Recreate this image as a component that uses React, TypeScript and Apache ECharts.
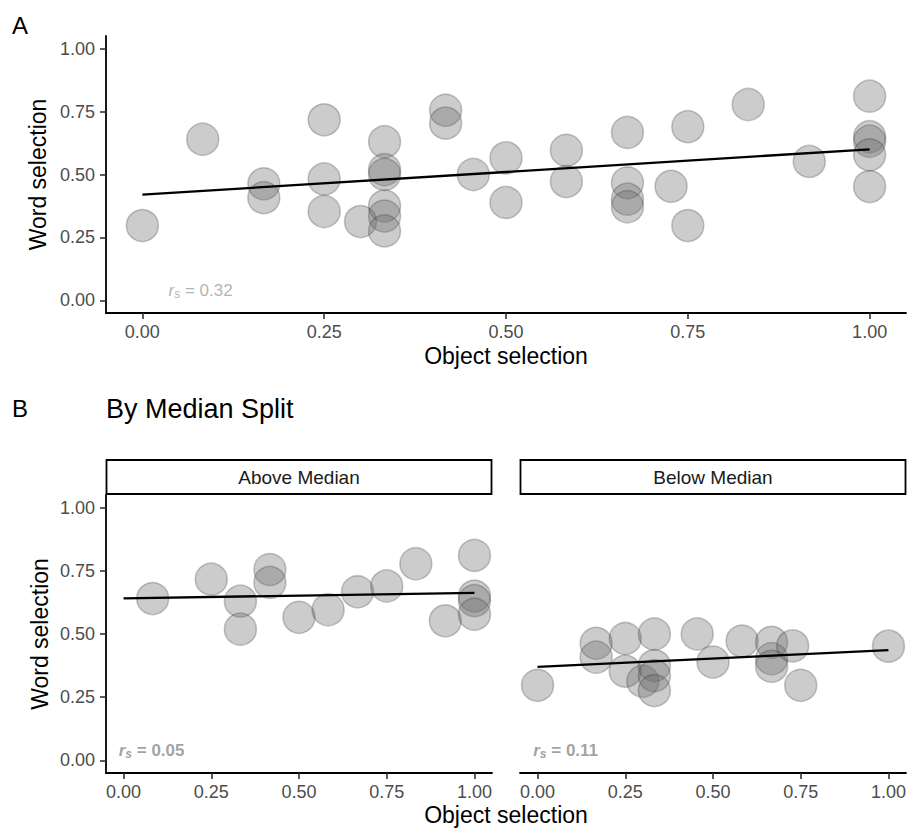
import React, { useEffect, useRef } from 'react';
import * as echarts from 'echarts';

const FONT = '"Liberation Sans", Arial, Helvetica, sans-serif';

// Tick values shared by all axes
const TICKS = [0, 0.25, 0.5, 0.75, 1];

// Above-median group (object selection, word selection)
const aboveX = [0.083, 0.25, 0.333, 0.333, 0.417, 0.417, 0.5, 0.583, 0.667, 0.75, 0.833, 0.917, 1, 1, 1, 1];
const aboveY = [0.64, 0.717, 0.63, 0.519, 0.755, 0.704, 0.566, 0.596, 0.667, 0.69, 0.778, 0.552, 0.811, 0.65, 0.632, 0.578];

// Below-median group
const belowX = [0, 0.167, 0.167, 0.25, 0.25, 0.3, 0.333, 0.333, 0.333, 0.333, 0.455, 0.5, 0.583, 0.667, 0.667, 0.667, 0.727, 0.75, 1];
const belowY = [0.297, 0.463, 0.408, 0.482, 0.353, 0.313, 0.5, 0.375, 0.335, 0.276, 0.5, 0.389, 0.472, 0.467, 0.402, 0.372, 0.453, 0.297, 0.452];

// Fitted line endpoints
const fitAll = [[0, 0.42], [1, 0.6]];
const fitAbove = [[0, 0.641], [1, 0.663]];
const fitBelow = [[0, 0.37], [1, 0.436]];

// Spearman correlations
const rsAll = '0.32';
const rsAbove = '0.05';
const rsBelow = '0.11';
const rsPos = [0.08, 0.04];

const facetNames = ['Above Median', 'Below Median'];

const pts = (xs: number[], ys: number[]) => xs.map((x, i) => [x, ys[i]]);

const xAxisOf = (gridIndex: number, name?: string) => ({
  type: 'value',
  gridIndex,
  min: -0.05,
  max: 1.05,
  name: name || '',
  nameLocation: 'middle',
  nameGap: 31,
  nameTextStyle: { fontSize: 23, color: '#000', fontFamily: FONT },
  axisLine: { show: true, onZero: false, lineStyle: { color: '#000', width: 1.8 } },
  axisTick: { show: true, length: 6, customValues: TICKS, lineStyle: { color: '#333', width: 1.6 } },
  axisLabel: {
    customValues: TICKS,
    formatter: (v: number) => v.toFixed(2),
    fontSize: 18,
    color: '#4d4d4d',
    margin: 10,
    fontFamily: FONT,
  },
  splitLine: { show: false },
});

const yAxisOf = (gridIndex: number, visible: boolean, name?: string) => ({
  type: 'value',
  gridIndex,
  min: -0.05,
  max: 1.05,
  name: name || '',
  nameLocation: 'middle',
  nameGap: 55,
  nameTextStyle: { fontSize: 23, color: '#000', fontFamily: FONT },
  axisLine: { show: visible, onZero: false, lineStyle: { color: '#000', width: 1.8 } },
  axisTick: { show: visible, length: 6, customValues: TICKS, lineStyle: { color: '#333', width: 1.6 } },
  axisLabel: {
    show: visible,
    customValues: TICKS,
    formatter: (v: number) => v.toFixed(2),
    fontSize: 18,
    color: '#4d4d4d',
    margin: 11,
    fontFamily: FONT,
  },
  splitLine: { show: false },
});

const pointStyle = {
  color: 'rgba(105,105,105,0.42)',
  borderColor: 'rgba(50,50,50,0.35)',
  borderWidth: 1.5,
};

const scatterOf = (idx: number, data: number[][]) => ({
  type: 'scatter',
  xAxisIndex: idx,
  yAxisIndex: idx,
  data,
  symbolSize: 32,
  itemStyle: pointStyle,
  z: 2,
  silent: true,
});

const lineOf = (idx: number, data: number[][]) => ({
  type: 'line',
  xAxisIndex: idx,
  yAxisIndex: idx,
  data,
  symbol: 'none',
  lineStyle: { color: '#000', width: 2.3 },
  z: 3,
  silent: true,
});

const rsOf = (idx: number, val: string, bold: boolean) => {
  const color = bold ? '#8a8a8a' : '#a0a0a0';
  const fw = bold ? 'bold' : 'normal';
  return {
    type: 'scatter',
    xAxisIndex: idx,
    yAxisIndex: idx,
    data: [rsPos],
    symbolSize: 1,
    itemStyle: { color: 'rgba(0,0,0,0)' },
    z: 4,
    silent: true,
    label: {
      show: true,
      position: 'inside',
      formatter: `{r|r}{s|s}{t| = ${val}}`,
      rich: {
        r: { fontSize: 17, fontStyle: 'italic', color, fontFamily: FONT, fontWeight: fw },
        s: { fontSize: 12, fontStyle: 'italic', color, fontFamily: FONT, padding: [8, 0, 0, 0], fontWeight: fw },
        t: { fontSize: 17, color, fontFamily: FONT, fontWeight: fw },
      },
    },
  };
};

const stripOf = (x: number, w: number, text: string) => ({
  type: 'group',
  children: [
    {
      type: 'rect',
      shape: { x, y: 460, width: w, height: 34 },
      style: { fill: '#fff', stroke: '#000', lineWidth: 1.8 },
    },
    {
      type: 'text',
      x: x + w / 2,
      y: 477.5,
      style: { text, fontSize: 19, fill: '#1a1a1a', fontFamily: FONT, align: 'center', verticalAlign: 'middle' },
    },
  ],
});

export default function App() {
  const ref = useRef<HTMLDivElement>(null);
  useEffect(() => {
    document.body.style.margin = '0';
    const chart = echarts.init(ref.current!, null, { renderer: 'svg' });
    const allPts = pts(aboveX, aboveY).concat(pts(belowX, belowY));
    chart.setOption({
      animation: false,
      backgroundColor: '#fff',
      grid: [
        { left: 106, top: 36, width: 800, height: 277 },
        { left: 106, top: 495, width: 386, height: 278 },
        { left: 520, top: 495, width: 386, height: 278 },
      ],
      xAxis: [xAxisOf(0, 'Object selection'), xAxisOf(1), xAxisOf(2)],
      yAxis: [yAxisOf(0, true, 'Word selection'), yAxisOf(1, true, 'Word selection'), yAxisOf(2, false)],
      series: [
        scatterOf(0, allPts),
        lineOf(0, fitAll),
        rsOf(0, rsAll, false),
        scatterOf(1, pts(aboveX, aboveY)),
        lineOf(1, fitAbove),
        rsOf(1, rsAbove, true),
        scatterOf(2, pts(belowX, belowY)),
        lineOf(2, fitBelow),
        rsOf(2, rsBelow, true),
      ],
      graphic: [
        { type: 'text', x: 12, y: 25.5, style: { text: 'A', fontSize: 24, fill: '#000', fontFamily: FONT, verticalAlign: 'middle' } },
        { type: 'text', x: 12, y: 408.5, style: { text: 'B', fontSize: 24, fill: '#000', fontFamily: FONT, verticalAlign: 'middle' } },
        { type: 'text', x: 106, y: 409, style: { text: 'By Median Split', fontSize: 27, fill: '#000', fontFamily: FONT, verticalAlign: 'middle' } },
        stripOf(106.5, 385, facetNames[0]),
        stripOf(520.5, 385, facetNames[1]),
        { type: 'text', x: 506, y: 815, style: { text: 'Object selection', fontSize: 23, fill: '#000', fontFamily: FONT, align: 'center', verticalAlign: 'middle' } },
      ],
    });
    return () => chart.dispose();
  }, []);
  return <div ref={ref} style={{ width: 916, height: 830 }} />;
}
